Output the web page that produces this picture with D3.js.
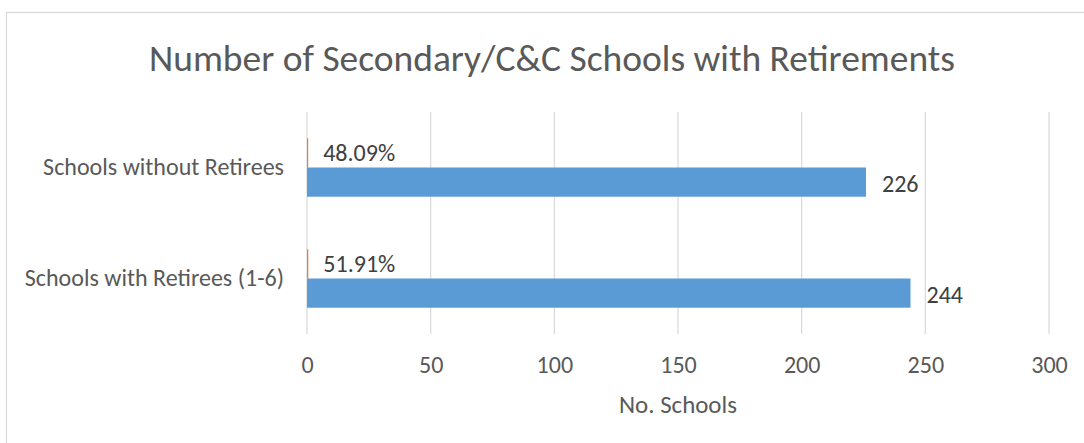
<!DOCTYPE html>
<html>
<head>
<meta charset="utf-8">
<script src="https://cdn.jsdelivr.net/npm/d3@7"></script>
<style>
  html, body { margin: 0; padding: 0; background: #fff; overflow: hidden; }
  svg { display: block; }
  text { font-family: Calibri, Carlito, "Open Sans", sans-serif; }
</style>
</head>
<body>
<svg id="chart" width="1084" height="443"></svg>
<script>
// ---- data ----
const title = "Number of Secondary/C&C Schools with Retirements";
const categories = ["Schools without Retirees", "Schools with Retirees (1-6)"];
const schoolCounts = [226, 244];
const retireeShares = [0.4809, 0.5191];
const shareLabels = ["48.09%", "51.91%"];
const xTicks = [0, 50, 100, 150, 200, 250, 300];
const xAxisTitle = "No. Schools";
const seriesKeys = ["share", "count"];

// ---- layout ----
const W = 1084, H = 443;
const plot = { left: 307, right: 1049, top: 112, bottom: 334 };
const colors = { count: "#5B9BD5", share: "#ED7D31", grid: "#D9D9D9", text: "#595959", label: "#404040" };

const svg = d3.select("#chart");

// chart area border (extends beyond viewport on right/bottom)
svg.append("rect")
  .attr("x", 6.5).attr("y", 12.5)
  .attr("width", 1100).attr("height", 460)
  .attr("fill", "#fff").attr("stroke", colors.grid).attr("stroke-width", 1.2);

const x = d3.scaleLinear().domain([0, 300]).range([plot.left, plot.right]);
const y = d3.scaleBand().domain(categories).range([plot.top, plot.bottom]).paddingInner(0).paddingOuter(0);
const inner = d3.scaleBand().domain(seriesKeys).range([0, y.bandwidth()]).paddingOuter(0.9).paddingInner(0);

// gridlines
svg.append("g").selectAll("line").data(xTicks).join("line")
  .attr("x1", d => x(d)).attr("x2", d => x(d))
  .attr("y1", plot.top).attr("y2", plot.bottom)
  .attr("stroke", colors.grid).attr("stroke-width", 1.2);

// font fitting helper
function fitSize(sel, target, base) {
  sel.style("font-size", base + "px");
  const w = sel.node().getComputedTextLength();
  return base * target / w;
}

const rows = categories.map((c, i) => ({ cat: c, count: schoolCounts[i], share: retireeShares[i], shareLabel: shareLabels[i] }));

// bars
const g = svg.append("g");
g.selectAll("rect.count").data(rows).join("rect").attr("class", "count")
  .attr("x", x(0)).attr("y", d => y(d.cat) + inner("count"))
  .attr("width", d => x(d.count) - x(0)).attr("height", inner.bandwidth())
  .attr("fill", colors.count);
g.selectAll("rect.share").data(rows).join("rect").attr("class", "share")
  .attr("x", x(0)).attr("y", d => y(d.cat) + inner("share"))
  .attr("width", d => Math.max(0.8, x(d.share) - x(0))).attr("height", inner.bandwidth())
  .attr("fill", colors.share);

// category labels
const catLabels = svg.append("g").selectAll("text").data(rows).join("text")
  .attr("x", 284).attr("y", d => y(d.cat) + y.bandwidth() / 2 + 7)
  .attr("text-anchor", "end").attr("fill", colors.text)
  .text(d => d.cat);
const labelSize = fitSize(d3.select(catLabels.nodes()[0]), 241, 20);
catLabels.style("font-size", labelSize + "px");

// data labels
svg.append("g").selectAll("text").data(rows).join("text")
  .attr("x", d => x(d.count) + 16)
  .attr("y", d => y(d.cat) + inner("count") + inner.bandwidth() / 2 + 9.5)
  .attr("fill", colors.label).style("font-size", labelSize + "px")
  .text(d => d.count);
svg.append("g").selectAll("text").data(rows).join("text")
  .attr("x", d => x(d.share) + 15)
  .attr("y", d => y(d.cat) + inner("share") + inner.bandwidth() / 2 + 8.5)
  .attr("fill", colors.label).style("font-size", labelSize + "px")
  .text(d => d.shareLabel);

// x axis tick labels
const axis = d3.axisBottom(x).tickValues(xTicks).tickSize(0).tickPadding(0).tickFormat(d3.format("d"));
const axG = svg.append("g").attr("transform", `translate(0, ${plot.bottom})`).call(axis);
axG.select(".domain").remove();
axG.selectAll("text")
  .attr("y", 39).attr("dy", null)
  .attr("fill", colors.text)
  .style("font-size", labelSize + "px")
  .style("font-family", 'Calibri, Carlito, "Open Sans", sans-serif');

// axis title
const axT = svg.append("text")
  .attr("x", (plot.left + plot.right) / 2).attr("y", 413)
  .attr("text-anchor", "middle").attr("fill", colors.text)
  .text(xAxisTitle);
axT.style("font-size", fitSize(axT, 118, 20) + "px");

// title
const t = svg.append("text")
  .attr("x", 552).attr("y", 71)
  .attr("text-anchor", "middle").attr("fill", colors.text)
  .text(title);
t.style("font-size", fitSize(t, 806, 30) + "px");
</script>
</body>
</html>
